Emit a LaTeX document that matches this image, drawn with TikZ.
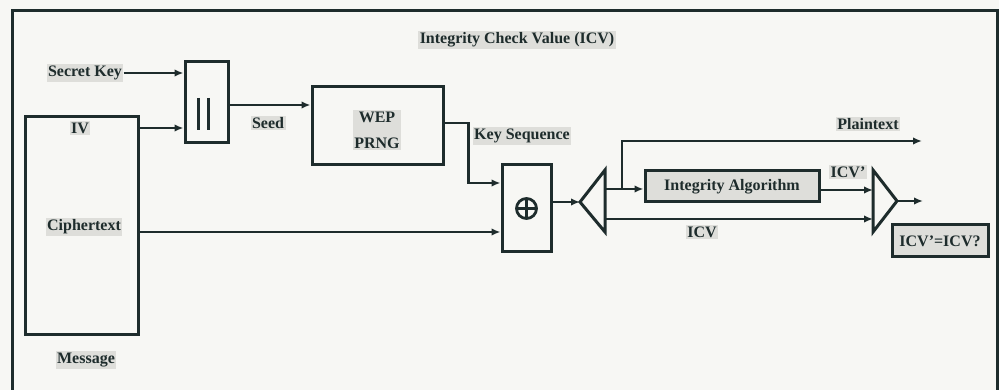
\documentclass[tikz,border=0pt]{standalone}
\usepackage{fontspec}
\setmainfont{Liberation Serif}
\usetikzlibrary{arrows.meta,calc,positioning}

\definecolor{ink}{RGB}{30,44,44}
\definecolor{paper}{RGB}{247,247,244}
\definecolor{halo}{RGB}{222,222,218}

\begin{document}
\begin{tikzpicture}[x=1pt, y=-1pt, >={Latex[length=9pt,width=7.5pt]},
		font=\fontsize{16}{18}\selectfont\bfseries,
		box/.style={draw=ink, line width=3pt, inner sep=0pt, text=ink},
		lbl/.style={fill=halo, text=ink, inner sep=1.5pt},
		wire/.style={draw=ink, line width=2.4pt}]
		\useasboundingbox (0,0) rectangle (999,390);
		\fill[paper] (0,0) rectangle (999,390);
		% frame, its bottom edge is off the page
		\draw[wire, line width=3pt] (12,390) -- (12,11) -- (997,11) -- (997,390);
		% boxes
		\node[box, minimum width=113, minimum height=217] (ivbox) at (81.5,225.5) {};
		\node[box, minimum width=43, minimum height=81] (cat) at (206.5,102.5) {};
		\node[box, minimum width=131, minimum height=78] (wep) at (377.5,126) {};
		\node[box, minimum width=49, minimum height=87] (xor) at (526.5,208.5) {};
		\node[box, fill=halo, minimum width=174, minimum height=31] (integ) at (732,186.5) {Integrity Algorithm};
		\node[box, fill=halo, minimum width=96, minimum height=32] (res) at (940,241) {ICV'=ICV?};
		% concatenation bars and xor sign
		\foreach \x in {198,208}
			\draw[wire, line width=3pt] (\x,98) -- (\x,130);
		\draw[wire, line width=2.8pt] (xor) circle (10);
		\draw[wire, line width=2.8pt] ($(xor)+(-10,0)$) -- ($(xor)+(10,0)$) ($(xor)+(0,-10)$) -- ($(xor)+(0,10)$);
		% splitter and comparator
		\coordinate (spltip) at (580,202);
		\coordinate (splhi) at (605,189);
		\coordinate (spllo) at (605,219);
		\coordinate (tap) at (622,189);
		\coordinate (ptend) at (922,141);
		\coordinate (cmphi) at (873,190);
		\coordinate (cmplo) at (873,219);
		\coordinate (cmptip) at (897,201);
		\coordinate (cmpout) at (923,201);
		\draw[wire, line width=3pt] (spltip) -- (605,170) -- (605,232) -- cycle;
		\draw[wire, line width=3pt] (873,170) -- (cmptip) -- (873,232) -- cycle;
		% labels
		\node[lbl] (sk) at (85,73) {Secret Key};
		\node[lbl] (iv) at (80,128) {IV};
		\node[lbl] (ct) at (84,227) {Ciphertext};
		\node[lbl] (msg) at (86,360) {Message};
		\node[lbl] (seed) at (268,123) {Seed};
		\node[lbl, align=center] (prng) at (377,130) {WEP\\[8pt]PRNG};
		\node[lbl] (ks) at (522,136) {Key Sequence};
		\node[lbl] (icvt) at (517,40) {Integrity Check Value (ICV)};
		\node[lbl] (pt) at (868,124) {Plaintext};
		\node[lbl] (icvp) at (848,172) {ICV'};
		\node[lbl] (icv) at (702,232) {ICV};
		% connectors
		\draw[wire, ->] (sk.east) -- (sk.east -| cat.west);
		\draw[wire, ->] (iv -| ivbox.east) -- (iv -| cat.west);
		\draw[wire, ->] ([yshift=-2.5pt]cat.east) -- ([yshift=-2.5pt]cat.east -| wep.west);
		\draw[wire, ->] ([yshift=3pt]wep.east) -- ++(24,0) |- (xor.west |- 0,183);
		\draw[wire, ->] (ivbox.east |- 0,232) -- (xor.west |- 0,232);
		\draw[wire, ->] (xor.east |- spltip) -- (spltip);
		\draw[wire, ->] (splhi) -- (splhi -| integ.west);
		\draw[wire, ->] (tap) |- (ptend);
		\draw[wire, ->] (spllo) -- (cmplo);
		\draw[wire, ->] (integ.east |- cmphi) -- (cmphi);
		\draw[wire, ->] (cmptip) -- (cmpout);
	\end{tikzpicture}
\end{document}
